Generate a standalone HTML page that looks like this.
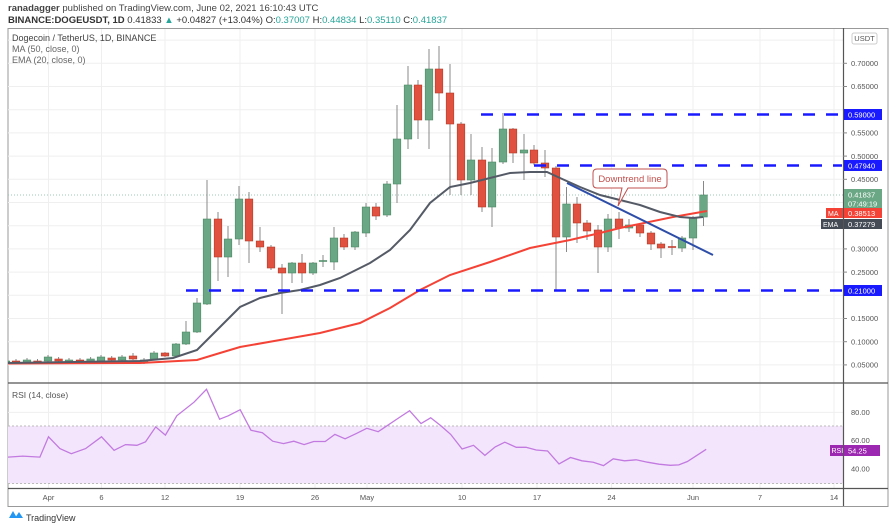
<!DOCTYPE html>
<html><head><meta charset="utf-8"><style>
body{margin:0;background:#fff;width:890px;height:526px;overflow:hidden;font-family:"Liberation Sans",sans-serif}
svg{position:absolute;left:0;top:0}
</style></head><body>
<svg id="s" width="890" height="526" xmlns="http://www.w3.org/2000/svg" font-family="Liberation Sans, sans-serif">
<defs><clipPath id="cp"><rect x="8" y="29" width="835" height="354"/></clipPath></defs>
<text x="8" y="11" font-size="9.5" fill="#444"><tspan font-weight="bold">ranadagger</tspan> published on TradingView.com, June 02, 2021 16:10:43 UTC</text>
<text x="8" y="23" font-size="9.5" fill="#333"><tspan font-weight="bold">BINANCE:DOGEUSDT, 1D</tspan> 0.41833 <tspan fill="#26a69a">▲</tspan> +0.04827 (+13.04%) O:<tspan fill="#26a69a">0.37007</tspan> H:<tspan fill="#26a69a">0.44834</tspan> L:<tspan fill="#26a69a">0.35110</tspan> C:<tspan fill="#26a69a">0.41837</tspan></text>
<rect x="8" y="28.5" width="880" height="478" fill="none" stroke="#999" stroke-width="1"/>
<g id="grid" stroke="#efefef" stroke-width="1"></g>
<rect x="8" y="426" width="835" height="57.5" fill="#f3e5fb"/>
<line x1="8" y1="426" x2="843" y2="426" stroke="#bbb" stroke-dasharray="2,2"/>
<line x1="8" y1="483.5" x2="843" y2="483.5" stroke="#bbb" stroke-dasharray="2,2"/>
<line x1="8" y1="195" x2="843" y2="195" stroke="#9cc9b6" stroke-dasharray="1,2"/>
<g clip-path="url(#cp)">
<g id="c"></g>
<polyline id="ma" fill="none" stroke="#f44336" stroke-width="2"/>
<polyline id="ema" fill="none" stroke="#555b66" stroke-width="2"/>
</g>
<line x1="567" y1="183" x2="713" y2="255" stroke="#2d4da8" stroke-width="2"/>
<g stroke="#1a1aff" stroke-width="2.5" stroke-dasharray="12,11">
<line x1="481" y1="114.5" x2="842" y2="114.5"/>
<line x1="534" y1="165.5" x2="842" y2="165.5"/>
<line x1="186" y1="290.5" x2="842" y2="290.5"/>
</g>
<path d="M597 169 H663 Q667 169 667 173 V184 Q667 188 663 188 H628 L618 206 L622 188 H597 Q593 188 593 184 V173 Q593 169 597 169 Z" fill="#fff" stroke="#c0504d" stroke-width="1"/>
<text x="630" y="182" font-size="9.5" fill="#c0504d" text-anchor="middle">Downtrend line</text>
<text x="12" y="41" font-size="9" fill="#444">Dogecoin / TetherUS, 1D, BINANCE</text>
<text x="12" y="52" font-size="9" fill="#666">MA (50, close, 0)</text>
<text x="12" y="63" font-size="9" fill="#666">EMA (20, close, 0)</text>
<line x1="8" y1="383" x2="888" y2="383" stroke="#555" stroke-width="1.2"/>
<line x1="8" y1="488.5" x2="888" y2="488.5" stroke="#555" stroke-width="1.2"/>
<line x1="843.5" y1="28" x2="843.5" y2="506" stroke="#555" stroke-width="1.2"/>
<polyline id="rsi" fill="none" stroke="#c27ae0" stroke-width="1.3"/>
<text x="12" y="398" font-size="8.5" fill="#555">RSI (14, close)</text>
<g id="ax" font-size="7.5" fill="#555"></g>
<rect x="852" y="33" width="25" height="11" rx="2" fill="#fff" stroke="#ccc"/>
<text x="864.5" y="41" font-size="7.5" fill="#555" text-anchor="middle">USDT</text>
<rect x="844" y="109" width="38" height="11" fill="#1a1aff"/><text x="848" y="117.5" font-size="7.5" fill="#fff">0.59000</text>
<rect x="844" y="160" width="38" height="11" fill="#1a1aff"/><text x="848" y="168.5" font-size="7.5" fill="#fff">0.47940</text>
<rect x="844" y="285" width="38" height="11" fill="#1a1aff"/><text x="848" y="293.5" font-size="7.5" fill="#fff">0.21000</text>
<rect x="844" y="189" width="38" height="20" fill="#6aa784"/><text x="848" y="197.5" font-size="7.5" fill="#fff">0.41837</text><text x="848" y="206.5" font-size="7.5" fill="#fff">07:49:19</text>
<rect x="826" y="208" width="17" height="10" fill="#f44336"/><text x="828" y="216" font-size="7" fill="#fff">MA</text>
<rect x="844" y="208" width="38" height="10" fill="#f44336"/><text x="848" y="216" font-size="7.5" fill="#fff">0.38513</text>
<rect x="821" y="219" width="22" height="10" fill="#444b55"/><text x="823" y="227" font-size="7" fill="#fff">EMA</text>
<rect x="844" y="219" width="38" height="10" fill="#444b55"/><text x="848" y="227" font-size="7.5" fill="#fff">0.37279</text>
<rect x="830" y="445" width="13" height="11" fill="#9c27b0"/><text x="831.5" y="453" font-size="7" fill="#fff">RSI</text>
<rect x="844" y="445" width="36" height="11" fill="#9c27b0"/><text x="848" y="453.5" font-size="7.5" fill="#fff">54.25</text>
<path d="M9 518 L13 511 L17 518 Z M15 518 L19 512 L23 518 Z" fill="#2196f3"/>
<text x="26" y="521" font-size="9" fill="#333">TradingView</text>
</svg>
<script>
var NS="http://www.w3.org/2000/svg",s=document.getElementById('s');
function el(p,t,a){var e=document.createElementNS(NS,t);for(var k in a)e.setAttribute(k,a[k]);p.appendChild(e);return e;}
var grid=document.getElementById('grid');
var dx=[48.5,101.5,165,240,315,367,462,537,611.5,693,760,834];
dx.forEach(function(x){el(grid,'line',{x1:x,y1:29,x2:x,y2:488});});
for(var p=0.05;p<=0.76;p+=0.05){var y=63.3+(0.70-p)*464;el(grid,'line',{x1:8,y1:y,x2:843,y2:y});}
[412.4,440.5,469].forEach(function(y){el(grid,'line',{x1:8,y1:y,x2:843,y2:y});});
var ax=document.getElementById('ax');
[[0.70,'0.70000'],[0.65,'0.65000'],[0.55,'0.55000'],[0.50,'0.50000'],[0.45,'0.45000'],[0.30,'0.30000'],[0.25,'0.25000'],[0.15,'0.15000'],[0.10,'0.10000'],[0.05,'0.05000']].forEach(function(a){var y=63.3+(0.70-a[0])*464;el(ax,'line',{x1:843,y1:y,x2:847,y2:y,stroke:'#888'});var t=el(ax,'text',{x:851,y:y+2.7});t.textContent=a[1];});
[[412.4,'80.00'],[440.5,'60.00'],[469,'40.00']].forEach(function(a){var t=el(ax,'text',{x:851,y:a[0]+2.7});t.textContent=a[1];});
var lbl=['Apr','6','12','19','26','May','10','17','24','Jun','7','14'];
dx.forEach(function(x,i){var t=el(ax,'text',{x:x,y:500,'text-anchor':'middle'});t.textContent=lbl[i];});
var C=[[6,361,362,359,364,1],[16,361,362,359,363,0],[27,360,362,358,364,1],[37.5,361,362,359,363,0],[48,357,361,355,363,1],[58.6,359,361,357,363,0],[69,360,362,358,363,1],[80,360,361,358,362,0],[90.6,359,361,357,362,1],[101,357,361,355,362,1],[111.7,358,360,356,361,0],[122,357,360,355,361,1],[133,356,359,353,360,0],
[144,360,363,358,364,1],[154,353,359,351,360,1],[165,353,356,352,357,0],[176,344,356,343,357,1],[186,332,344,321,345,1],[197,303,332,298,333,1],[207,219,304,180,305,1],[218,219,257,212,281,0],[228,239,257,226,277,1],[239,199,239,186,245,1],[249,199,241,192,263,0],[260,241,247,227,252,0],[271,247,268,245,270,0],[282,268,273,264,314,0],[292,263,273,262,283,1],[302,263,273,254,283,0],[313,263,273,262,275,1],[323,260.5,261.5,255,267,1],[334,238,262,227,270,1],[344,238,247,234,250,0],[355,232,247,231,250,1],[366,207,233,203,237,1],[376,207,216,203,220,0],[387,184,215,181,217,1],[397,139,184,105,203,1],[408,85,139,66,149,1],[418,85,120,80,139,0],[429,69,120,49,149,1],[439,69,93,46,111,0],[450,93,124,64,195,0],[461,124,180,122,195,0],[471,160,180,134,195,1],[482,160,207,147,212,0],[492,162,207,148,227,1],[503,129,162,113,164,1],[513,129,153,128,163,0],[524,150,153,134,180,1],[534,150,163,145,165,0],[545,163,168,150,177,0],[556,168,237,166,290,0],[566.5,204,237,187,252,1],[577,204,223,197,243,0],[587,223,231,220,240,0],[598,230,247,225,273,0],[608,219,247,214,252,1],[619,219,228,212,239,0],[629,225,228,219,232,1],[640,225,233,223,237,0],[651,233,244,231,250,0],[661,244,248,242,258,0],[672,246.5,247.5,240,255,0],[682,238,248,236,252,1],[693,218,238,216,250,1],[703.5,195,217,181,226,1]];
var cg=document.getElementById('c');
C.forEach(function(c){var col=c[5]?'#6aa784':'#e0523f',bd=c[5]?'#4e8a66':'#b83a2a';
el(cg,'line',{x1:c[0],y1:c[3],x2:c[0],y2:c[4],stroke:'#888','stroke-width':1});
el(cg,'rect',{x:c[0]-3.8,y:c[1],width:7.6,height:Math.max(1,c[2]-c[1]),fill:col,stroke:bd,'stroke-width':0.6});});
document.getElementById('ema').setAttribute('points','8,363 140,361 173,358 197,350 207,340 220,327 240,307 260,298 280,293 300,290 320,285 340,278 360,268 370,263 390,250 410,230 430,203 450,187 470,183 490,178 510,173 530,172 547,172 560,178 580,187 600,195 620,200 640,205 660,212 680,217 693,218 703,217');
document.getElementById('ma').setAttribute('points','8,363.5 140,363 197,360 220,353 240,347 280,340 320,333 360,323 390,308 420,290 450,275 490,262 530,248 570,240 600,233 620,228 673,217 707,211');
var R=[[14,257],[40,254],[70,257],[85,197],[105,232],[125,247],[150,232],[178,197],[200,237],[220,220],[240,222],[255,212],[273,168],[290,192],[310,135],[340,95],[362,57],[385,145],[400,135],[421,117],[440,178],[460,185],[478,210],[497,217],[515,210],[533,220],[550,211],[570,211],[587,190],[605,203],[625,187],[643,172],[663,182],[700,140],[718,120],[738,158],[755,141],[773,165],[790,190],[810,233],[830,222],[850,252],[868,227],[885,213],[905,228],[922,228],[940,236],[960,239],[980,277],[1000,258],[1020,268],[1040,272],[1058,282],[1075,262],[1095,268],[1115,265],[1135,272],[1155,278],[1175,281],[1190,280],[1205,270],[1238,234]];
document.getElementById('rsi').setAttribute('points',R.map(function(p){return (p[0]/1.753).toFixed(1)+','+(370+p[1]/2.95).toFixed(1);}).join(' '));
</script>
</body></html>
